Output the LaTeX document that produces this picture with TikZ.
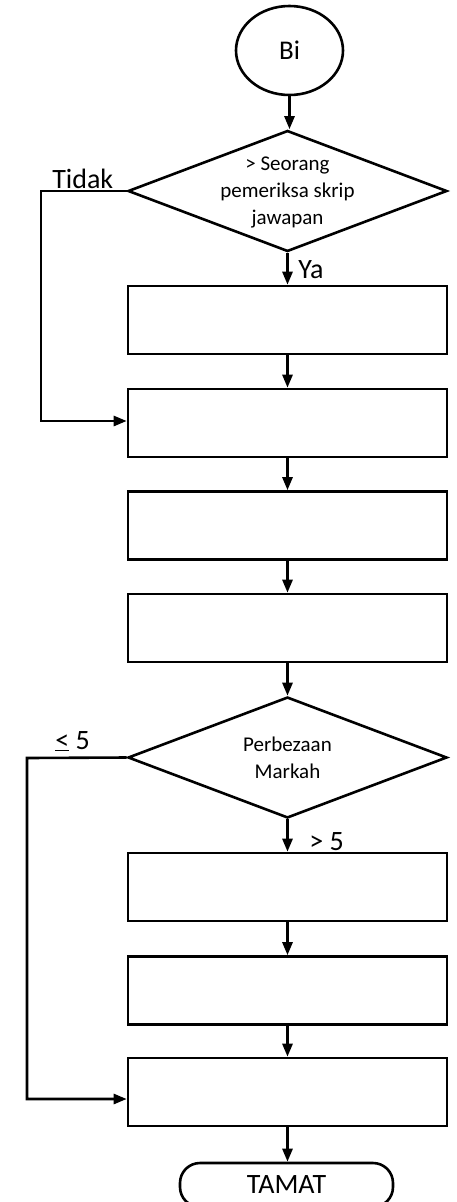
\documentclass[tikz,border=0pt]{standalone}
\usepackage{fontspec}
\setmainfont{Carlito}
\usetikzlibrary{shapes.geometric,arrows.meta}
\begin{document}
\begin{tikzpicture}[x=1pt,y=-1pt,
  line width=2.6pt,
  flow/.style={-{Triangle[length=13pt,width=10pt]}},
  stepbox/.style={draw,rectangle,inner sep=0pt,minimum width=319pt,minimum height=68pt},
  decide/.style={draw,diamond,inner sep=0pt,minimum width=319pt,minimum height=121pt,aspect=2.64},
  big/.style={font=\fontsize{28}{34}\selectfont,inner sep=0pt},
  small/.style={font=\fontsize{21}{27}\selectfont,align=center,inner sep=0pt}]
\useasboundingbox (0,0) rectangle (456,1202);
\node[draw,ellipse,minimum width=107pt,minimum height=89pt,inner sep=0pt,font=\fontsize{27}{32}\selectfont] (start) at (289.5,50.5) {Bi};
\node[decide] (d1) at (287.5,191) {};
\node[small] (t1) at (287.5,192) {> Seorang\\pemeriksa skrip\\jawapan};
\node[stepbox] (b1) at (287.5,320) {};
\node[stepbox] (b2) at (287.5,423) {};
\node[stepbox] (b3) at (287.5,525.5) {};
\node[stepbox] (b4) at (287.5,628) {};
\node[decide] (d2) at (287.5,757.5) {};
\node[small] (t2) at (287.5,758) {Perbezaan\\Markah};
\node[stepbox] (b5) at (287.5,887) {};
\node[stepbox] (b6) at (287.5,990.5) {};
\node[stepbox] (b7) at (287.5,1092) {};
\node[draw,rectangle,rounded corners=20pt,minimum width=213pt,minimum height=44pt,inner sep=0pt,font=\fontsize{28}{34}\selectfont] (end) at (286.5,1185) {TAMAT};
\coordinate (c1) at (41,191);
\coordinate (c2) at (41,421);
\coordinate (c3) at (27,758);
\coordinate (c4) at (27,1099);
\draw[flow] (start.south) -- (start.south |- d1.north);
\draw[flow] (d1.south) -- (d1.south |- b1.north);
\draw[flow] (b1.south) -- (b1.south |- b2.north);
\draw[flow] (b2.south) -- (b2.south |- b3.north);
\draw[flow] (b3.south) -- (b3.south |- b4.north);
\draw[flow] (b4.south) -- (b4.south |- d2.north);
\draw[flow] (d2.south) -- (d2.south |- b5.north);
\draw[flow] (b5.south) -- (b5.south |- b6.north);
\draw[flow] (b6.south) -- (b6.south |- b7.north);
\draw[flow] (b7.south) -- (b7.south |- end.north);
\draw[flow,line join=miter] (d1.west) -- (c1) -- (c2) -- (c2 -| b2.west);
\draw[flow,line join=miter] (d2.west) -- (c3) -- (c4) -- (c4 -| b7.west);
\node[big,anchor=base west] (tidak) at (51,188) {Tidak};
\node[big,anchor=base west] (ya) at (297,278) {Ya};
\node[big,anchor=base west] (le5) at (54,749) {\underline{<} 5};
\node[big,anchor=base west] (gt5) at (308,850) {> 5};
\end{tikzpicture}
\end{document}
